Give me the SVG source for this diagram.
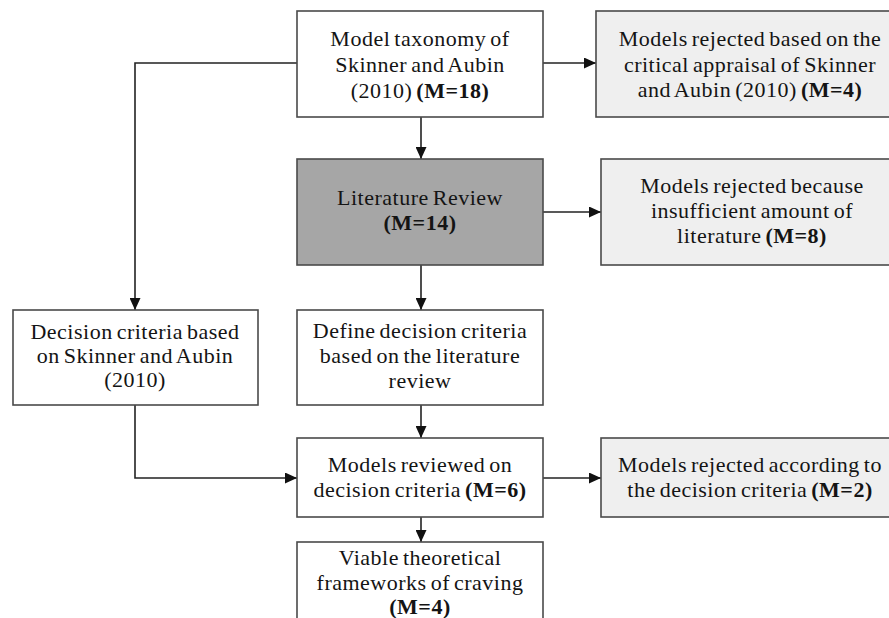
<svg xmlns="http://www.w3.org/2000/svg" width="889" height="618" viewBox="0 0 889 618">
<defs>
<marker id="ah" viewBox="0 0 12 11" refX="12" refY="5.5" markerWidth="12" markerHeight="11" markerUnits="userSpaceOnUse" orient="auto">
<path d="M0,0 L12,5.5 L0,11 Z" fill="#111"/>
</marker>
<style>
.box{fill:#ffffff;stroke:#4a4a4a;stroke-width:1.6}
.rej{fill:#efefef;stroke:#4a4a4a;stroke-width:1.6}
.dark{fill:#a6a6a6;stroke:#4a4a4a;stroke-width:1.6}
text{font-family:"Liberation Serif","Times New Roman",serif;font-size:22px;fill:#141414;text-anchor:middle;letter-spacing:0.5px;word-spacing:-2px}
.b{font-weight:bold}
.conn{fill:none;stroke:#222;stroke-width:1.6}
</style>
</defs>
<rect width="889" height="618" fill="#ffffff"/>
<g id="connectors">
<line class="conn" x1="543" y1="63" x2="596" y2="63" marker-end="url(#ah)"/>
<line class="conn" x1="421" y1="117" x2="421" y2="159" marker-end="url(#ah)"/>
<line class="conn" x1="543" y1="212" x2="601" y2="212" marker-end="url(#ah)"/>
<line class="conn" x1="421" y1="265" x2="421" y2="310" marker-end="url(#ah)"/>
<line class="conn" x1="421" y1="405" x2="421" y2="438" marker-end="url(#ah)"/>
<line class="conn" x1="421" y1="517" x2="421" y2="542" marker-end="url(#ah)"/>
<line class="conn" x1="543" y1="478" x2="601" y2="478" marker-end="url(#ah)"/>
<polyline class="conn" points="297,63 135,63 135,310" marker-end="url(#ah)"/>
<polyline class="conn" points="135,405 135,478 297,478" marker-end="url(#ah)"/>
</g>
<g id="taxonomy">
<rect class="box" x="297" y="11" width="246" height="106"/>
<text x="420" y="46">Model taxonomy of</text>
<text x="420" y="72">Skinner and Aubin</text>
<text x="420" y="98">(2010) <tspan class="b">(M=18)</tspan></text>
</g>
<g id="rejected-appraisal">
<rect class="rej" x="596" y="11" width="310" height="106"/>
<text x="750" y="46">Models rejected based on the</text>
<text x="750" y="72">critical appraisal of Skinner</text>
<text x="750" y="97">and Aubin (2010) <tspan class="b">(M=4)</tspan></text>
</g>
<g id="literature-review">
<rect class="dark" x="297" y="159" width="246" height="106"/>
<text x="420" y="205">Literature Review</text>
<text x="420" y="230" class="b">(M=14)</text>
</g>
<g id="rejected-literature">
<rect class="rej" x="601" y="159" width="305" height="106"/>
<text x="752" y="193">Models rejected because</text>
<text x="752" y="218">insufficient amount of</text>
<text x="752" y="243">literature <tspan class="b">(M=8)</tspan></text>
</g>
<g id="decision-skinner">
<rect class="box" x="13" y="310" width="245" height="95"/>
<text x="135" y="339">Decision criteria based</text>
<text x="135" y="363">on Skinner and Aubin</text>
<text x="135" y="387">(2010)</text>
</g>
<g id="define-criteria">
<rect class="box" x="297" y="310" width="246" height="95"/>
<text x="420" y="338">Define decision criteria</text>
<text x="420" y="363">based on the literature</text>
<text x="420" y="388">review</text>
</g>
<g id="models-reviewed">
<rect class="box" x="297" y="438" width="246" height="79"/>
<text x="420" y="472">Models reviewed on</text>
<text x="420" y="497">decision criteria <tspan class="b">(M=6)</tspan></text>
</g>
<g id="rejected-criteria">
<rect class="rej" x="601" y="438" width="305" height="79"/>
<text x="750" y="472">Models rejected according to</text>
<text x="750" y="497">the decision criteria <tspan class="b">(M=2)</tspan></text>
</g>
<g id="viable">
<rect class="box" x="297" y="542" width="246" height="90"/>
<text x="420" y="565">Viable theoretical</text>
<text x="420" y="590">frameworks of craving</text>
<text x="420" y="614" class="b">(M=4)</text>
</g>
</svg>
